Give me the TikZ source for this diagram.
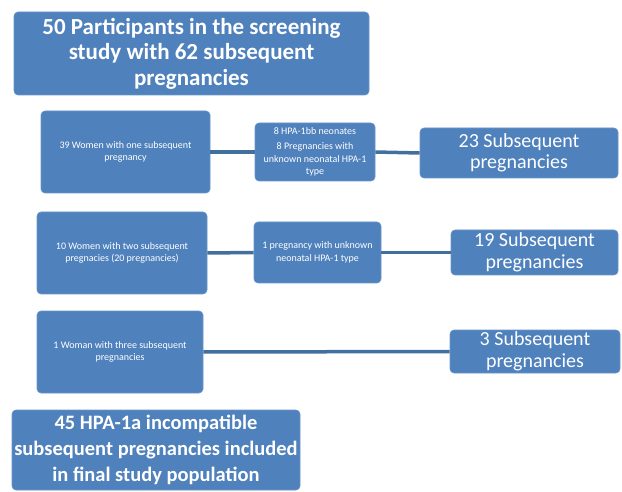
\documentclass[tikz,border=0pt]{standalone}
\usepackage{fontspec}
\setmainfont{Carlito}
\definecolor{boxfill}{HTML}{4F81BD}
\definecolor{boxline}{HTML}{6A95C8}
\definecolor{connc}{HTML}{42709E}
\begin{document}
\begin{tikzpicture}[x=1pt,y=-1pt,
  box/.style={fill=boxfill,draw=boxline,line width=0.6pt,rounded corners=4pt,text=white,align=center,inner sep=0pt},
  big/.style={box,font=\fontsize{23}{25.5}\selectfont\bfseries},
  bigb/.style={box,font=\fontsize{20.5}{26}\selectfont\bfseries},
  small/.style={box,font=\fontsize{10}{12.5}\selectfont},
  mid/.style={box,font=\fontsize{20}{21.5}\selectfont},
  conn/.style={draw=connc,line width=3.5pt}]
\useasboundingbox (0,0) rectangle (622,492);
\node[big,minimum width=355pt,minimum height=83pt] (top) at (191.5,53.5) {50 Participants in the screening\\study with 62 subsequent\\pregnancies};
% row 1
\node[small,minimum width=169pt,minimum height=82pt] (a1) at (125.5,152) {39 Women with one subsequent\\pregnancy};
\node[small,minimum width=120pt,minimum height=58pt] (b1) at (315,152) {8 HPA-1bb neonates\\[3pt]8 Pregnancies with\\unknown neonatal HPA-1\\type};
\node[mid,minimum width=198pt,minimum height=50pt] (c1) at (519,153) {23 Subsequent\\pregnancies};
\draw[conn] (a1.east) -- (b1.west);
\draw[conn] (b1.east) -- (c1.west);
% row 2
\node[small,minimum width=170pt,minimum height=82pt] (a2) at (122,253) {10 Women with two subsequent\\pregnacies (20 pregnancies)};
\node[small,minimum width=127pt,minimum height=61pt] (b2) at (317.5,252.5) {1 pregnancy with unknown\\neonatal HPA-1 type};
\node[mid,minimum width=167pt,minimum height=45pt] (c2) at (534.5,252.5) {19 Subsequent\\pregnancies};
\draw[conn] (a2.east) -- (b2.west);
\draw[conn] (b2.east) -- (c2.west);
% row 3
\node[small,minimum width=166pt,minimum height=82pt] (a3) at (120,352) {1 Woman with three subsequent\\pregnancies};
\node[mid,minimum width=170pt,minimum height=43pt] (c3) at (535,351.5) {3 Subsequent\\pregnancies};
\draw[conn] (a3.east) -- (c3.west);
% bottom
\node[bigb,minimum width=288pt,minimum height=80pt] (bot) at (156,450) {45 HPA-1a incompatible\\subsequent pregnancies included\\in final study population};
\end{tikzpicture}
\end{document}
